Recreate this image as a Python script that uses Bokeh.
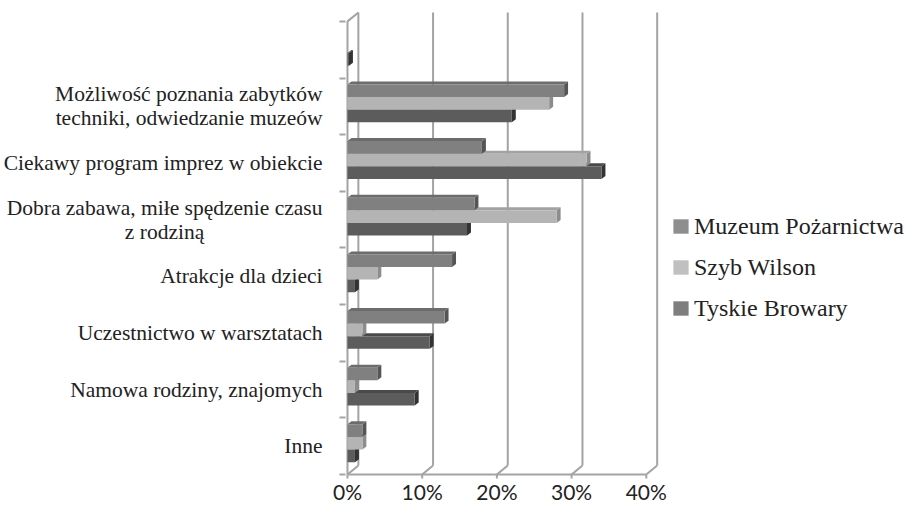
from bokeh.plotting import figure
from bokeh.models import FixedTicker, PrintfTickFormatter, Legend, LegendItem, Range1d
from bokeh.embed import file_html
from bokeh.resources import INLINE

NB = "\u00a0"

# ---------------- data ----------------
categories = [
    "Inne",
    "Namowa rodziny, znajomych",
    "Uczestnictwo w warsztatach",
    "Atrakcje dla dzieci",
    "Dobra zabawa, miłe spędzenie czasu\nz rodziną" + NB * 22,
    "Ciekawy program imprez w obiekcie",
    "Możliwość poznania zabytków\ntechniki, odwiedzanie muzeów",
    "",
]
muzeum = [2, 4, 13, 14, 17, 18, 29, 0]
szyb = [2, 1, 2, 4, 28, 32, 27, 0]
tyskie = [1, 9, 11, 1, 16, 34, 22, 0.2]
series_names = ["Muzeum Pożarnictwa", "Szyb Wilson", "Tyskie Browary"]
x_ticks = [0, 10, 20, 30, 40]

# ---------------- style ----------------
PXX = 7.55   # px per percent
PXY = 57.0   # px per category band
DX, DY = 11 / PXX, 9 / PXY        # wall depth
BDX, BDY = 4 / PXX, 3 / PXY       # bar depth
H = 12.7 / PXY                    # bar thickness
GOFF = 3 / PXY                    # group offset
GRID = "#a3a3a3"
front_col = ["#808080", "#b4b4b4", "#5c5c5c"]
top_col = ["#6c6c6c", "#a2a2a2", "#4a4a4a"]
side_col = ["#555555", "#8c8c8c", "#333333"]
legend_col = ["#8e8e8e", "#c0c0c0", "#7e7e7e"]

n = len(categories)
W, HGT = 907, 506
LEFT, BOTTOM = 339, 25
x0 = -2 / PXX
x1 = x0 + (W - LEFT) / PXX
y0 = -4 / PXY
y1 = y0 + (HGT - BOTTOM) / PXY

p = figure(width=W, height=HGT, output_backend="svg", toolbar_location=None,
           x_range=Range1d(x0, x1), y_range=Range1d(y0, y1),
           min_border_left=LEFT, min_border_right=0, min_border_top=0, min_border_bottom=BOTTOM)
p.outline_line_color = None
p.xgrid.visible = False
p.ygrid.visible = False
p.background_fill_color = "white"
p.border_fill_color = "white"

# walls / grid
for g in x_ticks:
    p.segment(x0=[g + DX], y0=[DY], x1=[g + DX], y1=[n + DY], line_color=GRID, line_width=2)
    p.segment(x0=[g], y0=[0], x1=[g + DX], y1=[DY], line_color=GRID, line_width=2)
    p.segment(x0=[g], y0=[0], x1=[g], y1=[-6 / PXY], line_color=GRID, line_width=2)
p.segment(x0=[0], y0=[0], x1=[x_ticks[-1]], y1=[0], line_color=GRID, line_width=2)
p.segment(x0=[0], y0=[0], x1=[0], y1=[n], line_color=GRID, line_width=2)
p.segment(x0=[0], y0=[n], x1=[DX], y1=[n + DY], line_color=GRID, line_width=2)

# bars (draw Tyskie, Szyb, Muzeum so nearer slots overlap correctly)
series = [muzeum, szyb, tyskie]
legend_renderers = [None, None, None]
for s in [2, 1, 0]:
    vals = series[s]
    L, R, B, T = [], [], [], []
    txs, tys, sxs, sys_ = [], [], [], []
    for i, v in enumerate(vals):
        if v <= 0:
            continue
        c = i + 0.5 + GOFF
        b = c + (0.5 - s) * H
        t = b + H
        L.append(0); R.append(v); B.append(b); T.append(t)
        txs.append([0, v, v + BDX, BDX]); tys.append([t, t, t + BDY, t + BDY])
        sxs.append([v, v + BDX, v + BDX, v]); sys_.append([b, b + BDY, t + BDY, t])
    p.patches(xs=sxs, ys=sys_, fill_color=side_col[s], line_color=None)
    p.patches(xs=txs, ys=tys, fill_color=top_col[s], line_color=None)
    p.quad(left=L, right=R, bottom=B, top=T, fill_color=front_col[s], line_color=None)
    # zero-width quads at the bar ends carry the legend swatch colour
    legend_renderers[s] = p.quad(left=R, right=R, bottom=B, top=B,
                                 fill_color=legend_col[s], line_color=None)

items = [LegendItem(label=series_names[s], renderers=[legend_renderers[s]]) for s in range(3)]
legend = Legend(items=items, location=(326, 156), orientation="vertical",
                glyph_width=19, glyph_height=18, label_height=28, spacing=13,
                label_standoff=4, padding=0, margin=0,
                border_line_color=None, background_fill_alpha=0,
                label_text_font="Liberation Serif", label_text_font_size="24px",
                label_text_color="#222222")
p.add_layout(legend)

# y axis (categories)
centers = [i + 0.5 for i in range(n)]
yax = p.yaxis[0]
yax.ticker = FixedTicker(ticks=centers, minor_ticks=list(range(n + 1)))
yax.major_label_overrides = {c: lab for c, lab in zip(centers, categories)}
yax.axis_line_color = None
yax.major_tick_line_color = None
yax.major_tick_out = 0
yax.major_tick_in = 0
yax.minor_tick_out = 6
yax.minor_tick_in = 0
yax.minor_tick_line_color = GRID
yax.minor_tick_line_width = 2
yax.major_label_standoff = 17
yax.major_label_text_font = "Liberation Serif"
yax.major_label_text_font_size = "21.5px"
yax.major_label_text_line_height = 1.0
yax.major_label_text_color = "#222222"

# x axis (percent)
xax = p.xaxis[0]
xax.ticker = FixedTicker(ticks=x_ticks)
xax.formatter = PrintfTickFormatter(format="%d%%")
xax.axis_line_color = None
xax.major_tick_line_color = None
xax.major_tick_out = 0
xax.major_tick_in = 0
xax.minor_tick_line_color = None
xax.major_label_standoff = 0
xax.major_label_text_font = "Lato"
xax.major_label_text_font_size = "21px"
xax.major_label_text_color = "#222222"

open("out.html", "w").write(file_html(p, INLINE))
